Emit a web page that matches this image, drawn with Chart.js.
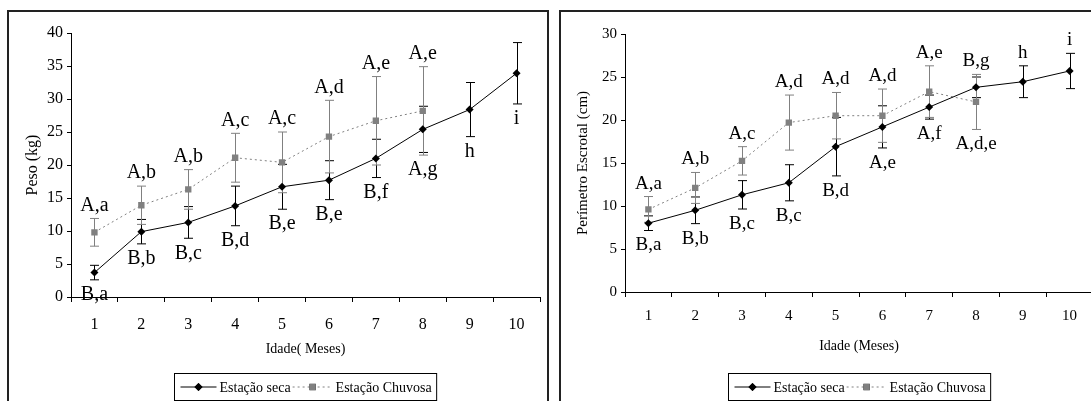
<!DOCTYPE html>
<html>
<head>
<meta charset="utf-8">
<script src="https://cdn.jsdelivr.net/npm/chart.js@4"></script>
<style>
  body { margin: 0; width: 1091px; height: 401px; overflow: hidden; background: #fff; position: relative; }
  .box { position: absolute; border: 2px solid #222; border-bottom: none; }
  #box1 { left: 7px; top: 10px; width: 538px; height: 400px; }
  #box2 { left: 559px; top: 10px; width: 600px; height: 400px; }
  canvas { position: absolute; }
  #c1 { left: 9px; top: 12px; }
  #c2 { left: 562px; top: 12px; }
</style>
</head>
<body>
<div class="box" id="box1"></div>
<div class="box" id="box2"></div>
<canvas id="c1" width="538" height="389"></canvas>
<canvas id="c2" width="540" height="389"></canvas>
<script>
// idade em meses
var months = ['1', '2', '3', '4', '5', '6', '7', '8', '9', '10'];

// Peso (kg)
var pesoSeca = [3.7, 9.9, 11.3, 13.8, 16.7, 17.7, 21.0, 25.4, 28.4, 33.9];
var pesoSecaErr = [1.1, 1.85, 2.4, 3.0, 3.4, 2.95, 2.9, 3.5, 4.1, 4.65];
var pesoChuvosa = [9.8, 13.9, 16.3, 21.1, 20.4, 24.3, 26.7, 28.2, null, null];
var pesoChuvosaErr = [2.1, 2.9, 3.0, 3.7, 4.6, 5.5, 6.7, 6.7, null, null];
var pesoTop = ['A,a', 'A,b', 'A,b', 'A,c', 'A,c', 'A,d', 'A,e', 'A,e', '', ''];
var pesoBottom = ['B,a', 'B,b', 'B,c', 'B,d', 'B,e', 'B,e', 'B,f', 'A,g', 'h', 'i'];

// Perimetro escrotal (cm)
var peSeca = [8.0, 9.5, 11.3, 12.7, 16.9, 19.2, 21.5, 23.8, 24.45, 25.7];
var peSecaErr = [0.85, 1.55, 1.65, 2.1, 3.4, 2.45, 1.4, 1.2, 1.85, 2.05];
var peChuvosa = [9.6, 12.1, 15.25, 19.7, 20.5, 20.5, 23.3, 22.1, null, null];
var peChuvosaErr = [1.5, 1.8, 1.65, 3.2, 2.7, 3.1, 3.0, 3.2, null, null];
var peTop = ['A,a', 'A,b', 'A,c', 'A,d', 'A,d', 'A,d', 'A,e', 'B,g', 'h', 'i'];
var peBottom = ['B,a', 'B,b', 'B,c', 'B,c', 'B,d', 'A,e', 'A,f', 'A,d,e', '', ''];

var GRAY = '#808080';
var SERIF = "'Liberation Serif', 'Times New Roman', serif";
Chart.defaults.font.family = SERIF;
Chart.defaults.color = '#000';

// error bars + letters
var errorBars = {
    id: 'errorBars',
    beforeDatasetsDraw: function (chart) {
        var ctx = chart.ctx, y = chart.scales.y;
        ctx.save();
        ctx.lineWidth = 1;
        chart.data.datasets.forEach(function (ds, i) {
            var meta = chart.getDatasetMeta(i);
            ctx.strokeStyle = ds.borderColor;
            meta.data.forEach(function (pt, j) {
                var v = ds.data[j], e = ds.errors[j];
                if (v == null || e == null) return;
                var x = Math.round(pt.x) + 0.5;
                var t = y.getPixelForValue(v + e), b = y.getPixelForValue(v - e);
                ctx.beginPath();
                ctx.moveTo(x, t); ctx.lineTo(x, b);
                ctx.moveTo(x - 4.5, t); ctx.lineTo(x + 4.5, t);
                ctx.moveTo(x - 4.5, b); ctx.lineTo(x + 4.5, b);
                ctx.stroke();
            });
        });
        ctx.restore();
    },
    afterDatasetsDraw: function (chart, args, opts) {
        var ctx = chart.ctx, y = chart.scales.y;
        ctx.save();
        ctx.font = opts.size + 'px ' + SERIF;
        ctx.fillStyle = '#000';
        ctx.textAlign = 'center';
        ctx.textBaseline = 'middle';
        chart.getDatasetMeta(0).data.forEach(function (pt, j) {
            var top = Infinity, bot = -Infinity;
            chart.data.datasets.forEach(function (ds) {
                var v = ds.data[j], e = ds.errors[j];
                if (v == null) return;
                top = Math.min(top, y.getPixelForValue(v + e));
                bot = Math.max(bot, y.getPixelForValue(v - e));
            });
            if (opts.top[j]) ctx.fillText(opts.top[j], pt.x, top - 13);
            if (opts.bottom[j]) ctx.fillText(opts.bottom[j], pt.x, bot + 15);
        });
        ctx.restore();
    }
};

// legend box with line + marker samples
var boxLegend = {
    id: 'boxLegend',
    afterDraw: function (chart, args, opts) {
        var ctx = chart.ctx, area = chart.chartArea;
        ctx.save();
        ctx.font = '14px ' + SERIF;
        var items = chart.data.datasets.map(function (ds) {
            return { ds: ds, w: ctx.measureText(ds.label).width };
        });
        var lens = [36, 40];
        var total = 6 + lens[0] + 3 + items[0].w + 2 + lens[1] + 3 + items[1].w + 5;
        var x0 = Math.round((area.left + area.right) / 2 - total / 2) + 0.5;
        var y0 = Math.round(area.bottom + opts.offset) + 0.5;
        var h = 27;
        ctx.strokeStyle = '#000';
        ctx.lineWidth = 1;
        ctx.strokeRect(x0, y0, total, h);
        var cy = y0 + h / 2;
        var x = x0 + 6;
        items.forEach(function (it, i) {
            var ds = it.ds;
            ctx.strokeStyle = ds.borderColor;
            ctx.setLineDash(ds.borderDash || []);
            ctx.beginPath();
            ctx.moveTo(x, cy); ctx.lineTo(x + lens[i], cy);
            ctx.stroke();
            ctx.setLineDash([]);
            Chart.helpers.drawPoint(ctx, { pointStyle: ds.pointStyle, radius: ds.pointRadius, borderWidth: 0 }, x + lens[i] / 2, cy);
            ctx.fillStyle = ds.pointBackgroundColor;
            ctx.fill();
            x += lens[i] + 3;
            ctx.fillStyle = '#000';
            ctx.textBaseline = 'middle';
            ctx.fillText(ds.label, x, cy + 1);
            x += it.w + 2;
        });
        ctx.restore();
    }
};

function makeChart(id, seca, secaErr, chuvosa, chuvosaErr, top, bottom, cfg) {
    return new Chart(document.getElementById(id), {
        type: 'line',
        data: {
            labels: months,
            datasets: [{
                label: 'Estação seca',
                data: seca,
                errors: secaErr,
                borderColor: '#000',
                borderWidth: 1,
                pointStyle: 'rectRot',
                pointRadius: 4,
                pointBackgroundColor: '#000',
                pointBorderWidth: 0
            }, {
                label: 'Estação Chuvosa',
                data: chuvosa,
                errors: chuvosaErr,
                borderColor: GRAY,
                borderWidth: 1,
                borderDash: [2, 3],
                pointStyle: 'rect',
                pointRadius: 4.5,
                pointBackgroundColor: GRAY,
                pointBorderWidth: 0
            }]
        },
        options: {
            responsive: false,
            animation: false,
            layout: { autoPadding: false, padding: { top: cfg.padTop, right: cfg.padRight, left: 0, bottom: cfg.padBottom } },
            plugins: {
                legend: { display: false },
                tooltip: { enabled: false },
                boxLegend: { offset: cfg.legendOffset },
                errorBars: { top: top, bottom: bottom, size: cfg.labelSize }
            },
            scales: {
                x: {
                    offset: true,
                    grid: { offset: true, drawOnChartArea: false, tickLength: 5, color: '#000' },
                    border: { color: '#000' },
                    ticks: { font: { size: cfg.tickSize }, padding: cfg.xPad, maxRotation: 0 },
                    title: { display: true, text: cfg.xTitle, font: { size: 14 }, padding: 0 },
                    afterFit: function (s) { s.height = cfg.xHeight; }
                },
                y: {
                    min: 0, max: cfg.yMax,
                    grid: { drawOnChartArea: false, tickLength: 4, color: '#000' },
                    border: { color: '#000' },
                    ticks: { stepSize: 5, font: { size: cfg.tickSize }, padding: 4 },
                    title: { display: true, text: cfg.yTitle, font: { size: cfg.yTitleSize }, padding: { top: cfg.yTitlePad, bottom: 0 } },
                    afterFit: function (s) { s.width = cfg.yWidth; }
                }
            }
        },
        plugins: [errorBars, boxLegend]
    });
}

makeChart('c1', pesoSeca, pesoSecaErr, pesoChuvosa, pesoChuvosaErr, pesoTop, pesoBottom, {
    padTop: 21, padRight: 7, padBottom: 43, xHeight: 61, xPad: 13, yWidth: 62, yMax: 40,
    tickSize: 16, labelSize: 20, yTitleSize: 16, yTitlePad: 14,
    xTitle: 'Idade( Meses)', yTitle: 'Peso (kg)', legendOffset: 76
});

makeChart('c2', peSeca, peSecaErr, peChuvosa, peChuvosaErr, peTop, peBottom, {
    padTop: 22, padRight: 9, padBottom: 46, xHeight: 63, xPad: 10, yWidth: 63, yMax: 30,
    tickSize: 15, labelSize: 19, yTitleSize: 15, yTitlePad: 12,
    xTitle: 'Idade (Meses)', yTitle: 'Perímetro Escrotal (cm)', legendOffset: 81
});
</script>
</body>
</html>
